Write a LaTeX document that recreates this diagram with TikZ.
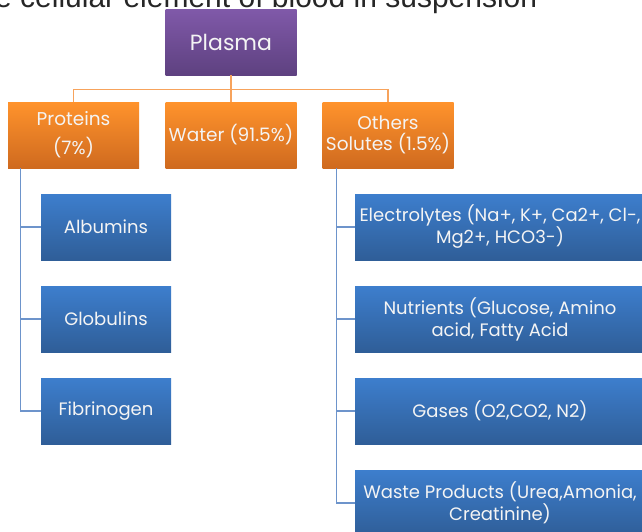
\documentclass[tikz,border=0pt]{standalone}
\usepackage{fontspec}
\setmainfont{Poppins}
\newfontfamily\titlefont{Liberation Sans}
\definecolor{plasmatop}{HTML}{8059A9}
\definecolor{plasmabot}{HTML}{5E4180}
\definecolor{orangetop}{HTML}{FF932C}
\definecolor{orangebot}{HTML}{CF6A1F}
\definecolor{bluetop}{HTML}{3D7ECD}
\definecolor{bluebot}{HTML}{2F5E98}
\definecolor{orangeline}{HTML}{F7A35C}
\definecolor{blueline}{HTML}{6D94CB}
\definecolor{labeltext}{HTML}{F4F4F4}
\tikzset{
  boxbase/.style={inner sep=0pt, align=center, text=labeltext},
  plasmabox/.style={boxbase, top color=plasmatop, bottom color=plasmabot,
    minimum width=131pt, minimum height=66pt, font=\fontsize{22}{26}\selectfont},
  groupbox/.style={boxbase, top color=orangetop, bottom color=orangebot,
    minimum width=131pt, minimum height=66pt, font=\fontsize{18.5}{21}\selectfont},
  itembox/.style={boxbase, top color=bluetop, bottom color=bluebot,
    minimum height=66pt, font=\fontsize{18}{22}\selectfont},
  orangelink/.style={draw=orangeline, line width=1.2pt},
  bluelink/.style={draw=blueline, line width=1.2pt}
}
\begin{document}
\begin{tikzpicture}[x=1pt, y=-1pt]
    \useasboundingbox (0,0) rectangle (642,531);
    \clip (0,0) rectangle (642,531);
    \fill[white] (0,0) rectangle (642,531);

    % cut-off heading line
    \node[anchor=base west, inner sep=0pt, text=black!85, font=\titlefont\fontsize{30}{32}\selectfont]
        (heading) at (-5,7) {e cellular element of blood in suspension};

    % top box
    \node[plasmabox] (plasma) at (231,42) {Plasma};

    % three groups
    \node[groupbox] (prot) at (73.5,135) {Proteins\\[8pt](7\%)};
    \node[groupbox] (water) at (231,135) {Water (91.5\%)};
    \node[groupbox] (others) at (388,135) {Others\\Solutes (1.5\%)};

    % proteins list
    \node[itembox, minimum width=130pt] (alb) at (106,227) {Albumins};
    \node[itembox, minimum width=130pt] (glob) at (106,319) {Globulins};
    \node[itembox, minimum width=130pt] (fib) at (106,411) {Fibrinogen};

    % solutes list
    \node[itembox, minimum width=290pt] (elec) at (500,227) {Electrolytes (Na+, K+, Ca2+, Cl-,\\Mg2+, HCO3-)};
    \node[itembox, minimum width=290pt] (nutr) at (500,319) {Nutrients (Glucose, Amino\\acid, Fatty Acid};
    \node[itembox, minimum width=290pt] (gas) at (500,411) {Gases (O2,CO2, N2)};
    \node[itembox, minimum width=290pt] (waste) at (500,503) {Waste Products (Urea,Amonia,\\Creatinine)};

    % links from plasma
    \coordinate (bus) at ([yshift=-14pt]plasma.south);
    \draw[orangelink] (plasma.south) -- (water.north);
    \draw[orangelink] (bus) -| (prot.north);
    \draw[orangelink] (bus) -| (others.north);

    % links to the lists
    \coordinate (protfoot) at ([xshift=13pt]prot.south west);
    \coordinate (othfoot) at ([xshift=14pt]others.south west);
    \draw[bluelink] (protfoot) |- (fib.west);
    \draw[bluelink] (protfoot) |- (alb.west);
    \draw[bluelink] (protfoot) |- (glob.west);
    \draw[bluelink] (othfoot) |- (waste.west);
    \draw[bluelink] (othfoot) |- (elec.west);
    \draw[bluelink] (othfoot) |- (nutr.west);
    \draw[bluelink] (othfoot) |- (gas.west);
\end{tikzpicture}
\end{document}
